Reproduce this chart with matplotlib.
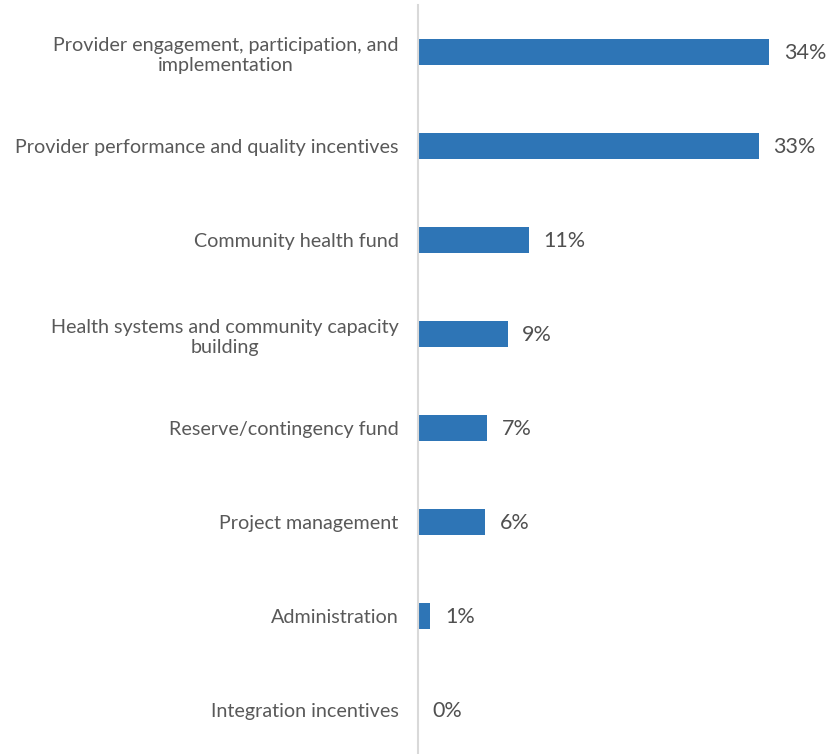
import matplotlib
matplotlib.use('Agg')
import matplotlib.pyplot as plt

categories = [
    'Provider engagement, participation, and\nimplementation',
    'Provider performance and quality incentives',
    'Community health fund',
    'Health systems and community capacity\nbuilding',
    'Reserve/contingency fund',
    'Project management',
    'Administration',
    'Integration incentives',
]
values = [34.0, 33.0, 10.7, 8.7, 6.7, 6.5, 1.2, 0.0]
value_labels = ['34%', '33%', '11%', '9%', '7%', '6%', '1%', '0%']

plt.rcParams['font.family'] = ['Lato', 'DejaVu Sans']

fig = plt.figure(figsize=(8.26, 7.54), dpi=100)
ax = fig.add_axes([418 / 826, -3 / 754, 408 / 826, 752 / 754])

y = list(range(len(categories)))
ax.barh(y, values, height=0.27, color='#2E75B6')
ax.set_xlim(0, 408 / 10.33)
ax.set_ylim(len(categories) - 0.5, -0.5)

# value labels next to each bar
for yi, v, lab in zip(y, values, value_labels):
    ax.text(v + 1.4, yi + 0.01, lab, va='center', ha='left', fontsize=15.5, color='#505050')

ax.set_yticks(y)
ax.set_yticklabels(categories, fontsize=14.2, color='#595959', ha='right',
                   linespacing=1.25)
for lbl in ax.get_yticklabels():
    lbl.set_multialignment('center')
ax.tick_params(axis='y', length=0, pad=14)
ax.set_xticks([])
for s in ['top', 'right', 'bottom']:
    ax.spines[s].set_visible(False)
ax.spines['left'].set_color('#D9D9D9')
ax.spines['left'].set_linewidth(1.5)

fig.savefig('out.png', dpi=100)
